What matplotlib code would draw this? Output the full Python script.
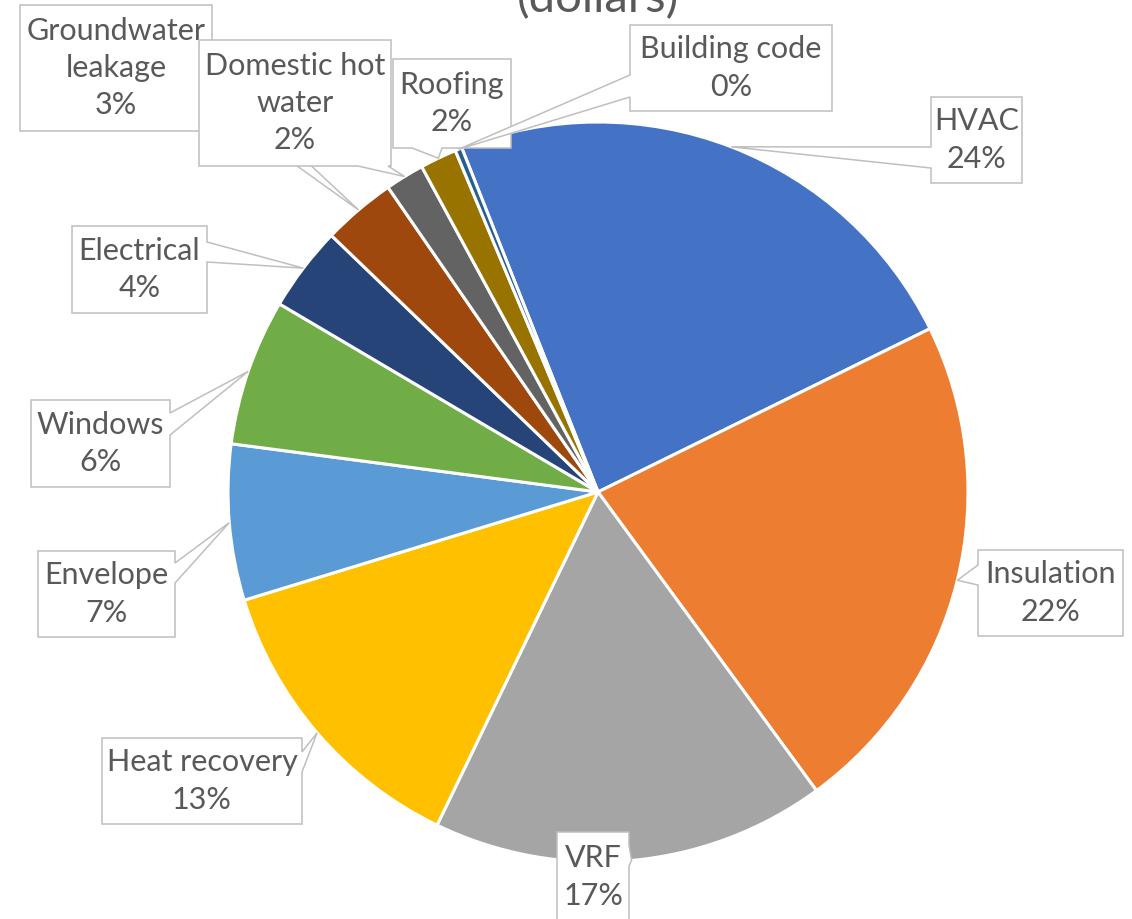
import matplotlib
matplotlib.use("Agg")
import matplotlib.pyplot as plt
from matplotlib.patches import Polygon
import numpy as np

# ---------------- data ----------------
categories = ["HVAC", "Insulation", "VRF", "Heat recovery", "Envelope", "Windows",
              "Electrical", "Groundwater\nleakage", "Domestic hot\nwater", "Roofing",
              "Building code"]
values = [23.7, 22.2, 17.2, 13.1, 6.8, 6.4, 3.7, 3.2, 1.7, 1.6, 0.3]
colors = ["#4472C4", "#ED7D31", "#A5A5A5", "#FFC000", "#5B9BD5", "#70AD47",
          "#264478", "#9E480E", "#636363", "#997300", "#255E91"]
title_text = "(dollars)"

# ---------------- layout (pixel coords, y downward) ----------------
W, H = 1132, 919
PIE_CX, PIE_CY, PIE_R = 598, 492, 370
START_ANGLE = 111.6
# box (x0, y0, x1, y1), side of pointer, pointer base range along that side
callouts = [
    ((931, 97, 1022, 183), "left", (147, 168)),      # HVAC
    ((978, 550, 1123, 636), "left", (565, 585)),     # Insulation
    ((557, 832, 629, 922), "right", (845, 866)),     # VRF
    ((102, 738, 302, 824), "right", (752, 772)),     # Heat recovery
    ((38, 551, 175, 637), "right", (563, 583)),      # Envelope
    ((31, 400, 170, 487), "right", (413, 435)),      # Windows
    ((72, 226, 207, 313), "right", (242, 262)),      # Electrical
    ((20, 5, 212, 131), "right", (73, 105)),         # Groundwater leakage
    ((199, 40, 391, 166), "bottom", (358, 388)),     # Domestic hot water
    ((393, 59, 511, 148), "bottom", (412, 442)),     # Roofing
    ((630, 25, 832, 111), "left", (75, 97)),         # Building code
]

FONT = ["Lato", "DejaVu Sans"]
TEXT_COLOR = "#595959"
EDGE_COLOR = "#BFBFBF"

fig = plt.figure(figsize=(W / 100, H / 100), dpi=100)
ax = fig.add_axes([0, 0, 1, 1])

def Y(y):
    return H - y

wedges, _ = ax.pie(values, colors=colors, startangle=START_ANGLE, counterclock=False,
                   radius=PIE_R, center=(PIE_CX, Y(PIE_CY)),
                   wedgeprops=dict(edgecolor="white", linewidth=2.2))
for w in wedges:
    w.set_zorder(1)

ax.set_xlim(0, W)
ax.set_ylim(0, H)
ax.set_aspect("equal")
ax.axis("off")

total = sum(values)

def callout_vertices(box, side, base, tip_screen):
    x0, y0, x1, y1 = box
    a, b = base
    TL, TR, BR, BL = (x0, y0), (x1, y0), (x1, y1), (x0, y1)
    t = tip_screen
    if side == "top":
        pts = [TL, (a, y0), t, (b, y0), TR, BR, BL]
    elif side == "right":
        pts = [TL, TR, (x1, a), t, (x1, b), BR, BL]
    elif side == "bottom":
        pts = [TL, TR, BR, (b, y1), t, (a, y1), BL]
    else:
        pts = [TL, TR, BR, BL, (x0, b), t, (x0, a)]
    return [(px, Y(py)) for px, py in pts]

for i, (w, name, v) in enumerate(zip(wedges, categories, values)):
    box, side, base = callouts[i]
    mid = np.deg2rad((w.theta1 + w.theta2) / 2.0)
    cx, cy = w.center
    tx = cx + w.r * np.cos(mid)
    ty = cy + w.r * np.sin(mid)
    tip_screen = (tx, H - ty)
    verts = callout_vertices(box, side, base, tip_screen)
    poly = Polygon(verts, closed=True, facecolor="white", edgecolor=EDGE_COLOR,
                   linewidth=1.1, joinstyle="miter", zorder=3 + i)
    ax.add_patch(poly)
    pct = v / total * 100
    label = f"{name}\n{round(pct):d}%"
    bx = (box[0] + box[2]) / 2
    by = (box[1] + box[3]) / 2
    ax.text(bx, Y(by), label, ha="center", va="center", fontsize=22,
            color=TEXT_COLOR, family=FONT, linespacing=1.4, zorder=3.5 + i)

ax.text(598, Y(12), title_text, ha="center", va="baseline", fontsize=34,
        color=TEXT_COLOR, family=FONT)

fig.savefig("out.png", dpi=100, facecolor="white")
